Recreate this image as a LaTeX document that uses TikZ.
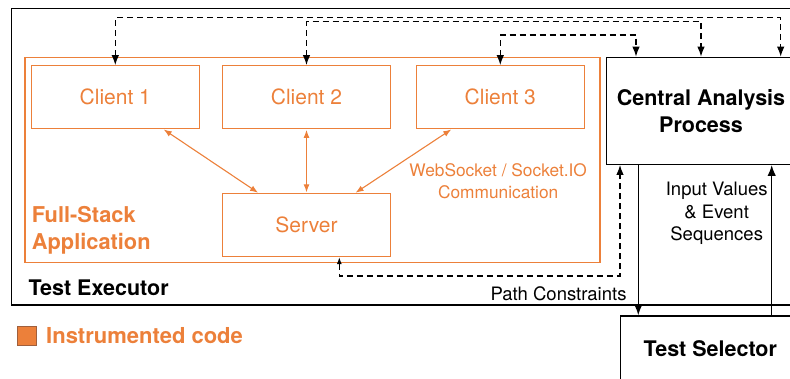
\documentclass[tikz,border=0pt]{standalone}
\usepackage{fontspec}
\setmainfont{TeX Gyre Heros}
\usetikzlibrary{arrows.meta}

\definecolor{instr}{RGB}{236,128,58}
\definecolor{instrdark}{RGB}{160,95,60}

\tikzset{
  clientbox/.style={draw=instr, line width=1.1pt, text=instr, minimum width=167.5pt, minimum height=62.7pt, inner sep=0pt, font=\fontsize{21}{25}\selectfont},
  blackbox/.style={draw, line width=1.3pt, inner sep=0pt, align=center, font=\fontsize{21.5}{26.7}\selectfont\bfseries},
  dashflow/.style={line width=1.2pt, dash pattern=on 6pt off 4pt, {Latex[length=10pt,width=7.5pt]}-{Latex[length=10pt,width=7.5pt]}},
  flow/.style={line width=1.5pt, -{Latex[length=11pt,width=8.5pt]}},
  wsflow/.style={draw=instr, line width=1.1pt, {Latex[length=8pt,width=6pt]}-{Latex[length=8pt,width=6pt]}, shorten <=1pt, shorten >=1pt},
}

\begin{document}
\begin{tikzpicture}[x=1pt,y=-1pt]
\useasboundingbox (0,0) rectangle (790,378);
\clip (0,0) rectangle (790,378);
%
\draw[line width=1.3pt] (11.7,8.3) rectangle (805,305);
\node[anchor=base west, inner sep=0pt, font=\fontsize{21.5}{26}\selectfont\bfseries] (execlbl) at (28.3,295) {Test Executor};

% app
\draw[draw=instr, line width=1.1pt] (25,57.3) rectangle (600,262.3);
\node[anchor=west, inner sep=0pt, align=left, text=instr, font=\fontsize{21.8}{26.7}\selectfont\bfseries] (applbl) at (31.7,230.5) {Full-Stack\\Application};
\foreach \i/\x in {1/115.3,2/306.5,3/500.3} {
\node[clientbox] (c\i) at (\x,97) {Client \i};
}
\node[clientbox] (srv) at (306.5,225.2) {Server};
\node[inner sep=0pt, align=center, text=instr, font=\fontsize{17.3}{21.7}\selectfont] (wslbl) at (498.2,180.9) {WebSocket / Socket.IO\\Communication};
\draw[wsflow] (c1) -- (srv);
\draw[wsflow] (c2.south) -- (srv.north);
\draw[wsflow] (c3) -- (srv);

% analysis, selector
\node[blackbox, minimum width=188.6pt, minimum height=107pt] (cap) at (701,110.8) {Central Analysis\\Process};
\node[blackbox, minimum width=179.3pt, minimum height=65.8pt] (ts) at (710.3,348.9) {Test Selector};

\foreach \i/\y/\x in {1/17.5/780.7,2/21.7/701,3/35/636} {
\draw[dashflow] (c\i.north) |- (\x,\y) -- (cap.north -| \x,0);
}
\draw[dashflow, {Latex[length=7pt,width=5pt]}-{Latex[length=10pt,width=7.5pt]}] ([xshift=32.8pt]srv.south) |- (620,276) -- (cap.south -| 620,0);

\draw[flow] (cap.south -| 638.3,0) -- (ts.north -| 638.3,0);
\draw[flow] (ts.north -| 771.7,0) -- (cap.south -| 771.7,0);
\node[anchor=base east, inner sep=0pt, font=\fontsize{18.5}{22}\selectfont] (pclbl) at (626.7,300.7) {Path Constraints};
\node[inner sep=0pt, align=center, font=\fontsize{18.5}{22.5}\selectfont] (ivlbl) at (716.7,213.4) {Input Values\\\& Event\\Sequences};

% legend
\node[draw=instrdark, fill=instr, line width=0.8pt, minimum size=19pt, inner sep=0pt] (legend) at (26.7,336) {};
\node[anchor=base west, inner sep=0pt, text=instr, font=\fontsize{22}{26}\selectfont\bfseries] (legendlbl) at (46,343.3) {Instrumented code};
\end{tikzpicture}
\end{document}
